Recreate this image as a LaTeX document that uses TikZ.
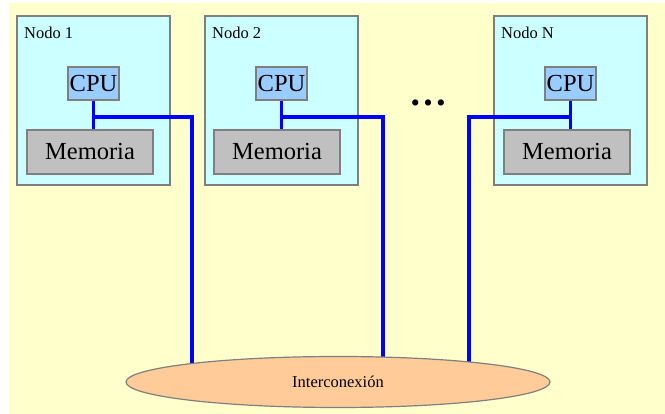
\documentclass[tikz,border=0pt]{standalone}
\usepackage{fontspec}
\setmainfont{Liberation Serif}
\usetikzlibrary{shapes.geometric}
\definecolor{bgyellow}{HTML}{FFFFCC}
\definecolor{nodecyan}{HTML}{CCFFFF}
\definecolor{cpublue}{HTML}{99CCFF}
\definecolor{memgray}{HTML}{C0C0C0}
\definecolor{netorange}{HTML}{FFCC99}
\definecolor{edgegray}{HTML}{7F7F7F}
\tikzset{
  nodebox/.style={draw=edgegray, line width=1.2pt, fill=nodecyan, minimum width=153pt, minimum height=169pt, inner sep=0pt},
  cpubox/.style={draw=edgegray, line width=1.2pt, fill=cpublue, minimum width=51pt, minimum height=33pt, inner sep=0pt, font=\fontsize{24.5}{26}\selectfont},
  membox/.style={draw=edgegray, line width=1.2pt, fill=memgray, minimum width=126pt, minimum height=44pt, inner sep=0pt, font=\fontsize{24.5}{26}\selectfont},
  nodetitle/.style={anchor=base west, inner sep=0pt, font=\fontsize{16.5}{18}\selectfont},
  bus/.style={draw=blue, line width=3.2pt},
  net/.style={ellipse, draw=edgegray, line width=1.2pt, fill=netorange, minimum width=424pt, minimum height=51pt, inner sep=0pt, font=\fontsize{16.5}{18}\selectfont}
}
\begin{document}
\begin{tikzpicture}[x=1pt, y=-1pt]
\useasboundingbox (0,0) rectangle (665,414);
\fill[white] (0,0) rectangle (665,414);
\fill[bgyellow] (9,3) rectangle (665,414);

% processing nodes
\node[nodebox] (box1) at (93.5,100.5) {};
\node[nodebox] (box2) at (281.5,100.5) {};
\node[nodebox] (boxN) at (570.5,100.5) {};
\node[nodetitle] (t1) at (24,39) {Nodo 1};
\node[nodetitle] (t2) at (212,39) {Nodo 2};
\node[nodetitle] (tN) at (501,39) {Nodo N};

\node[cpubox] (cpu1) at (93.5,83.5) {CPU};
\node[cpubox] (cpu2) at (281.5,83.5) {CPU};
\node[cpubox] (cpuN) at (570.5,83.5) {CPU};
\node[membox] (mem1) at (90,152) {Memoria};
\node[membox] (mem2) at (277,152) {Memoria};
\node[membox] (memN) at (567,152) {Memoria};

\node[anchor=base, inner sep=0pt, font=\bfseries\fontsize{38}{40}\selectfont] (dots) at (428,106) {…};

% junctions and bus drops
\coordinate (j1) at (93.5,117);
\coordinate (j2) at (281.5,117);
\coordinate (jN) at (570.5,117);
\coordinate (e1) at (192,375);
\coordinate (e2) at (383,375);
\coordinate (eN) at (469,375);

\draw[bus] (cpu1.south) -- (mem1.north -| cpu1.south);
\draw[bus] (cpu2.south) -- (mem2.north -| cpu2.south);
\draw[bus] (cpuN.south) -- (memN.north -| cpuN.south);
\draw[bus] ([xshift=-1.6pt]j1) -| (e1);
\draw[bus] ([xshift=-1.6pt]j2) -| (e2);
\draw[bus] ([xshift=1.6pt]jN) -| (eN);

% interconnection network
\node[net] (ic) at (338,382) {Interconexión};
\end{tikzpicture}
\end{document}
